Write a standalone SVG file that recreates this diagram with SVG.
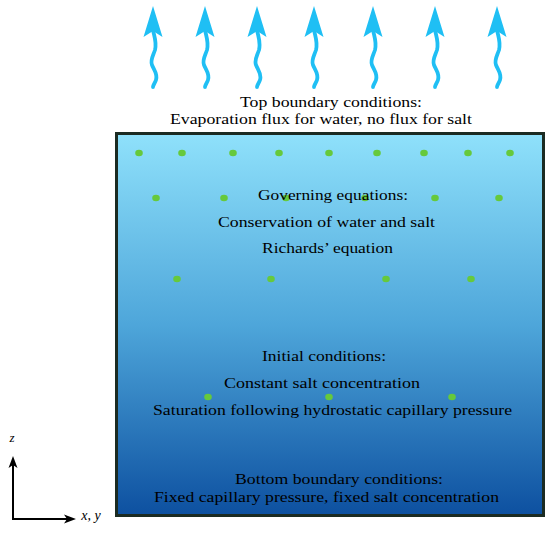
<svg xmlns="http://www.w3.org/2000/svg" width="550" height="533" viewBox="0 0 550 533" font-family="'Liberation Serif', 'Times New Roman', serif">
<defs>
<linearGradient id="soil" x1="0" y1="0" x2="0" y2="1">
<stop offset="0" stop-color="#8fe1fb"/>
<stop offset="0.5" stop-color="#4ea6da"/>
<stop offset="1" stop-color="#0d50a0"/>
</linearGradient>
<g id="wave">
<path d="M0,30 C1,36 4,42 2,50 C0,56 -3,60 -1,65 C1,70 5,74 3,80 C2,83 0,85 0,87" fill="none" stroke="#1fbff4" stroke-width="3.8" stroke-linecap="round"/>
<path d="M0,6 L9.5,37 L0,31 L-9.5,37 Z" fill="#1fbff4"/>
</g>
</defs>
<style>
text{font-family:'Liberation Serif','Times New Roman',serif;font-size:15.5px;fill:#000;text-anchor:middle}
.dot{fill:#66c93c}
.ax{stroke:#000;stroke-width:2;fill:none}
.head{fill:#000}
</style>
<g id="evaporation">
<use href="#wave" x="153" y="0"/>
<use href="#wave" x="205" y="0"/>
<use href="#wave" x="257" y="0"/>
<use href="#wave" x="314" y="0"/>
<use href="#wave" x="373" y="0"/>
<use href="#wave" x="435" y="0"/>
<use href="#wave" x="497" y="0"/>
</g>
<g id="top-label">
<text x="331" y="107" textLength="182" lengthAdjust="spacingAndGlyphs">Top boundary conditions:</text>
<text x="321" y="124" textLength="302" lengthAdjust="spacingAndGlyphs">Evaporation flux for water, no flux for salt</text>
</g>
<g id="domain">
<rect x="116.5" y="133.5" width="427" height="382" fill="url(#soil)" stroke="#1b2b22" stroke-width="3"/>
</g>
<g id="plants">
<g class="dot">
<ellipse cx="139" cy="153" rx="3.8" ry="3.3"/><ellipse cx="182" cy="153" rx="3.8" ry="3.3"/><ellipse cx="233" cy="153" rx="3.8" ry="3.3"/><ellipse cx="279" cy="153" rx="3.8" ry="3.3"/><ellipse cx="329" cy="153" rx="3.8" ry="3.3"/><ellipse cx="377" cy="153" rx="3.8" ry="3.3"/><ellipse cx="424" cy="153" rx="3.8" ry="3.3"/><ellipse cx="468" cy="153" rx="3.8" ry="3.3"/><ellipse cx="510" cy="153" rx="3.8" ry="3.3"/>
<ellipse cx="156" cy="198" rx="3.8" ry="3.3"/><ellipse cx="224" cy="198" rx="3.8" ry="3.3"/><ellipse cx="286" cy="198" rx="3.8" ry="3.3"/><ellipse cx="365" cy="198" rx="3.8" ry="3.3"/><ellipse cx="435" cy="198" rx="3.8" ry="3.3"/><ellipse cx="499" cy="198" rx="3.8" ry="3.3"/>
<ellipse cx="177" cy="279" rx="3.8" ry="3.3"/><ellipse cx="271" cy="279" rx="3.8" ry="3.3"/><ellipse cx="386" cy="279" rx="3.8" ry="3.3"/><ellipse cx="471" cy="279" rx="3.8" ry="3.3"/>
<ellipse cx="208" cy="397" rx="3.8" ry="3.3"/><ellipse cx="329" cy="397" rx="3.8" ry="3.3"/><ellipse cx="452" cy="397" rx="3.8" ry="3.3"/>
</g>
</g>
<g id="governing">
<text x="333" y="200" textLength="150" lengthAdjust="spacingAndGlyphs">Governing equations:</text>
<text x="326.5" y="227" textLength="217" lengthAdjust="spacingAndGlyphs">Conservation of water and salt</text>
<text x="327.5" y="253" textLength="131" lengthAdjust="spacingAndGlyphs">Richards’ equation</text>
</g>
<g id="initial">
<text x="324" y="361" textLength="124" lengthAdjust="spacingAndGlyphs">Initial conditions:</text>
<text x="322" y="388" textLength="196" lengthAdjust="spacingAndGlyphs">Constant salt concentration</text>
<text x="332.5" y="415" textLength="359" lengthAdjust="spacingAndGlyphs">Saturation following hydrostatic capillary pressure</text>
</g>
<g id="bottom-label">
<text x="339" y="484" textLength="208" lengthAdjust="spacingAndGlyphs">Bottom boundary conditions:</text>
<text x="326.5" y="502" textLength="345" lengthAdjust="spacingAndGlyphs">Fixed capillary pressure, fixed salt concentration</text>
</g>
<g id="axes">
<path class="ax" d="M13,519 L13,464"/>
<path class="head" d="M13,456 L17.5,468 L13,465 L8.5,468 Z"/>
<path class="ax" d="M12,519 L68,519"/>
<path class="head" d="M76,519 L64,523.5 L67,519 L64,514.5 Z"/>
<text x="12" y="442" style="font-style:italic;font-size:13px">z</text>
<text x="91" y="520" style="font-style:italic;font-size:14px">x, y</text>
</g>
</svg>
